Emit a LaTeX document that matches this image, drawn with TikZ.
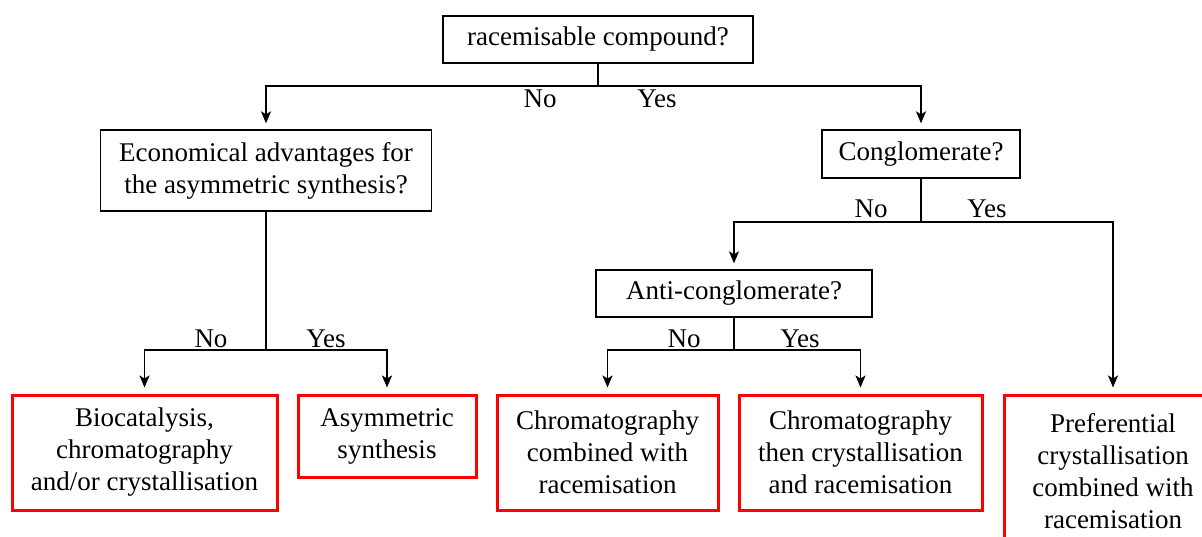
\documentclass[tikz,border=0pt]{standalone}
\usepackage{fontspec}
\setmainfont{Liberation Serif}
\newfontfamily\tnr{Liberation Serif}
\usetikzlibrary{arrows.meta}
\tikzset{
 txt/.style={font=\tnr\fontsize{27}{32}\selectfont, align=center},
 qbox/.style={txt, draw=black, line width=1.3pt, inner sep=0pt},
 rbox/.style={txt, draw=red, line width=3pt, inner sep=0pt},
 conn/.style={line width=1.8pt},
 arr/.style={conn, -{Stealth[length=12pt,width=10pt,inset=3pt]}, shorten >=6pt},
 lbl/.style={font=\tnr\fontsize{27}{32}\selectfont, anchor=base, inner sep=0pt}
}
\begin{document}
\begin{tikzpicture}[x=1pt,y=-1pt]
\useasboundingbox (0,0) rectangle (1202,537);
% question boxes
\node[qbox,minimum width=310pt,minimum height=47pt] (top) at (598,39.5) {racemisable compound?};
\node[qbox,minimum width=331pt,minimum height=81pt] (econ) at (266,170.5) {Economical advantages for\\the asymmetric synthesis?};
\node[qbox,minimum width=198pt,minimum height=48pt] (cong) at (921,154) {Conglomerate?};
\node[qbox,minimum width=276pt,minimum height=47pt] (anti) at (734,293.5) {Anti-conglomerate?};
% result boxes
\node[rbox,minimum width=265pt,minimum height=115pt] (bio) at (144.5,452.5) {Biocatalysis,\\chromatography\\and/or crystallisation};
\node[rbox,minimum width=178pt,minimum height=82pt] (asym) at (387,436) {Asymmetric\\synthesis};
\node[rbox,minimum width=221pt,minimum height=115pt] (chra) at (607.5,452.5) {Chromatography\\combined with\\racemisation};
\node[rbox,minimum width=243pt,minimum height=115pt] (chrb) at (860.5,452.5) {Chromatography\\then crystallisation\\and racemisation};
\node[rbox,minimum width=218pt,minimum height=152pt] (pref) at (1113,471) {Preferential\\crystallisation\\combined with\\racemisation};
% junctions
\coordinate (j1) at (598,86);
\coordinate (j2) at (921,222);
\coordinate (j3) at (734,350);
\coordinate (j4) at (266,350);
% connectors
\draw[conn] (top.south) -- (j1);
\draw[arr] (j1) -| (econ.north);
\draw[arr] (j1) -| (cong.north);
\draw[conn] (cong.south) -- (j2);
\draw[arr] (j2) -| (anti.north);
\draw[arr] (j2) -| (pref.north);
\draw[conn] (anti.south) -- (j3);
\draw[arr] (j3) -| (chra.north);
\draw[arr] (j3) -| (chrb.north);
\draw[conn] (econ.south) -- (j4);
\draw[arr] (j4) -| (bio.north);
\draw[arr] (j4) -| (asym.north);
% labels
\node[lbl] (n1) at (540,108) {No};
\node[lbl] (y1) at (657,108) {Yes};
\node[lbl] (n2) at (871,218) {No};
\node[lbl] (y2) at (987,218) {Yes};
\node[lbl] (n3) at (684,347) {No};
\node[lbl] (y3) at (800,347) {Yes};
\node[lbl] (n4) at (211,347) {No};
\node[lbl] (y4) at (326,347) {Yes};
\end{tikzpicture}
\end{document}
